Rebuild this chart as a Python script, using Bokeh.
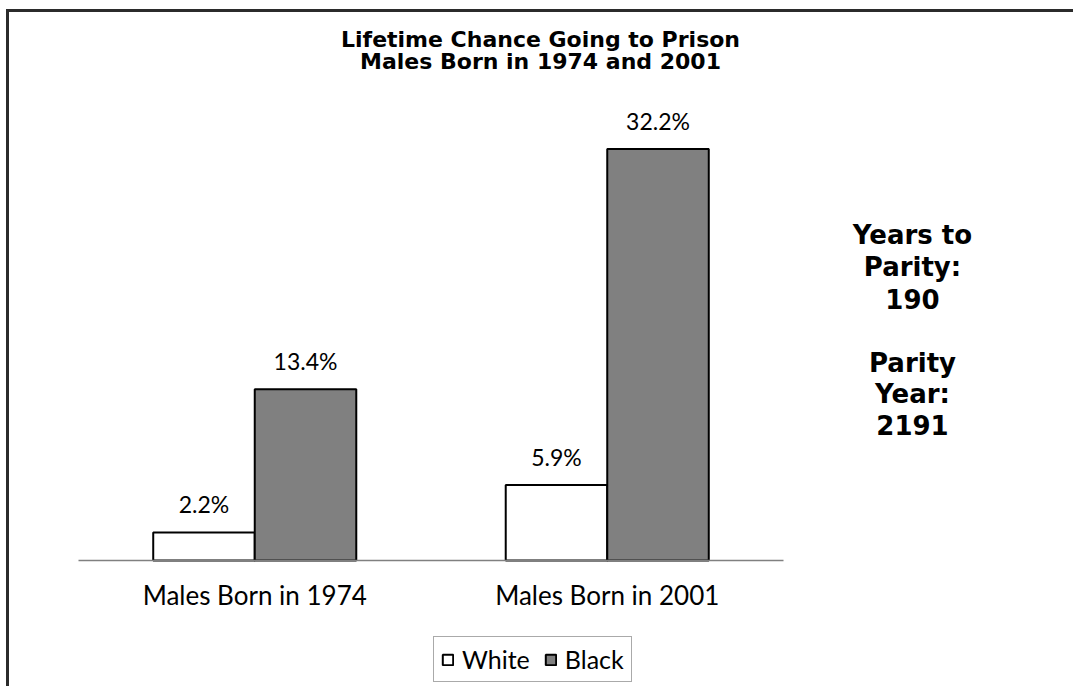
from bokeh.plotting import figure
from bokeh.models import (ColumnDataSource, Range1d, Label, Legend, LegendItem,
                          FixedTicker, GlobalInlineStyleSheet)
from bokeh.core.properties import value
from bokeh.embed import file_html
from bokeh.resources import INLINE

# ---- data ----
categories = ["Males Born in 1974", "Males Born in 2001"]
white = [2.2, 5.9]
black = [13.4, 32.2]
series_names = ["White", "Black"]
title_lines = ["Lifetime Chance Going to Prison", "Males Born in 1974 and 2001"]
side_lines = ["Years to", "Parity:", "190", "Parity", "Year:", "2191"]

# ---- layout (page pixels) ----
CANVAS_X, CANVAS_Y = 9, 12          # canvas origin on the page
W, H = 1064, 674                    # canvas size
AX_LEFT, AX_RIGHT = 78, 783         # extent of the category axis on the page
BASE_Y = 560                        # page y of value 0
PX_PER_UNIT = 12.78                 # vertical pixels per percentage point
cat_px = (AX_RIGHT - AX_LEFT) / len(categories)


def dx(px):   # page x -> data x
    return (px - AX_LEFT) / cat_px


def dy(py):   # page y -> data y
    return (BASE_Y - py) / PX_PER_UNIT


xpos = [i + 0.5 for i in range(len(categories))]
bw = 0.288
src = ColumnDataSource(dict(
    xw=[x - bw / 2 for x in xpos],
    xb=[x + bw / 2 for x in xpos],
    white=white,
    black=black,
    wlab=[f"{v:.1f}%" for v in white],
    blab=[f"{v:.1f}%" for v in black],
))

p = figure(x_range=Range1d(dx(CANVAS_X), dx(CANVAS_X + W)),
           y_range=Range1d(dy(CANVAS_Y + H), dy(CANVAS_Y)),
           frame_width=W, frame_height=H,
           min_border=0, min_border_left=0, min_border_right=0,
           min_border_top=0, min_border_bottom=0,
           output_backend="svg", toolbar_location=None)
p.styles = {"border-top": "3px solid #2b2b2b", "border-left": "3px solid #2b2b2b",
            "margin-left": "6px", "margin-top": "9px"}
p.stylesheets = [GlobalInlineStyleSheet(css="html, body { overflow: hidden; }")]

p.outline_line_color = None
p.xgrid.grid_line_color = None
p.ygrid.grid_line_color = None
p.yaxis.visible = False

ax = p.xaxis[0]
ax.fixed_location = 0
ax.bounds = (0, len(categories))
ax.ticker = FixedTicker(ticks=xpos)
ax.major_label_overrides = {x: c for x, c in zip(xpos, categories)}
ax.axis_line_color = "#808080"
ax.axis_line_width = 1.5
ax.major_tick_line_color = None
ax.minor_tick_line_color = None
ax.major_tick_in = 0
ax.major_tick_out = 0
ax.major_label_standoff = 18
ax.major_label_text_font = "Lato"
ax.major_label_text_font_size = "26px"
ax.major_label_text_color = "#000000"

rw = p.vbar(x="xw", top="white", width=bw, source=src,
            fill_color="#ffffff", line_color="#000000", line_width=2)
rb = p.vbar(x="xb", top="black", width=bw, source=src,
            fill_color="#808080", line_color="#000000", line_width=2)

for xc, col, lab in (("xw", "white", "wlab"), ("xb", "black", "blab")):
    p.text(x=xc, y=col, text=lab, source=src,
           text_align="center", text_baseline="alphabetic", y_offset=-28,
           text_font=value("Lato"), text_font_size="23px", text_color="#000000")

# title (two lines)
for line, py in zip(title_lines, [39, 61]):
    p.add_layout(Label(x=dx(540), y=dy(py), text=line,
                       text_align="center", text_baseline="alphabetic",
                       text_font="DejaVu Sans", text_font_style="bold",
                       text_font_size="22px", text_color="#000000"))

# side annotation
for line, py in zip(side_lines, [234, 266, 298, 362, 393, 424]):
    p.add_layout(Label(x=dx(912), y=dy(py), text=line,
                       text_align="center", text_baseline="alphabetic",
                       text_font="DejaVu Sans", text_font_style="bold",
                       text_font_size="26px", text_color="#000000"))

legend = Legend(items=[LegendItem(label=series_names[0], renderers=[rw]),
                       LegendItem(label=series_names[1], renderers=[rb])],
                location=(433 - CANVAS_X, (CANVAS_Y + H) - 682),
                orientation="horizontal",
                glyph_width=13, glyph_height=13, label_standoff=8, spacing=14,
                padding=7, margin=0,
                label_text_font="Lato", label_text_font_size="25px",
                label_text_color="#000000",
                border_line_color="#555555", border_line_width=1,
                background_fill_alpha=1)
p.add_layout(legend, "center")

open("out.html", "w").write(file_html(p, INLINE))
